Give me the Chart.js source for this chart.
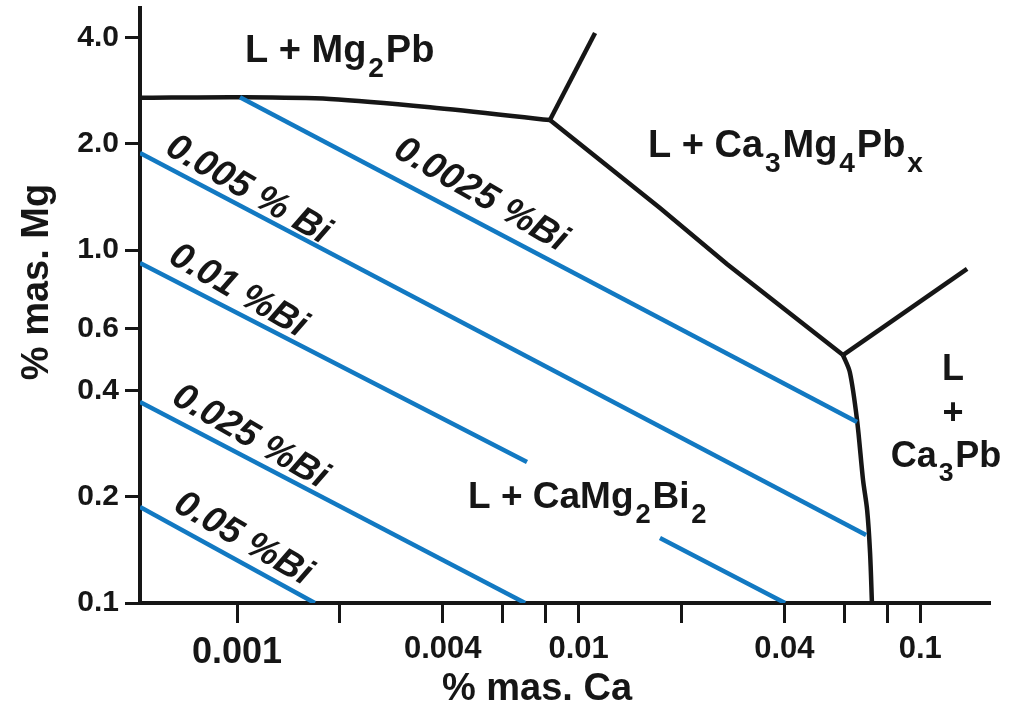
<!DOCTYPE html>
<html>
<head>
<meta charset="utf-8">
<script src="https://cdn.jsdelivr.net/npm/chart.js@4/dist/chart.umd.min.js"></script>
<style>
  body { margin: 0; background: #fff; }
  #chart { display: block; }
</style>
</head>
<body>
<canvas id="chart" width="1013" height="706"></canvas>
<script>
// axis ticks
const caTicks = [0.001, 0.002, 0.004, 0.006, 0.008, 0.01, 0.02, 0.04, 0.06, 0.08, 0.1];
const caTickLabels = ['0.001', '', '0.004', '', '', '0.01', '', '0.04', '', '', '0.1'];
const mgTicks = [0.1, 0.2, 0.4, 0.6, 1.0, 2.0, 4.0];
const mgTickLabels = ['0.1', '0.2', '0.4', '0.6', '1.0', '2.0', '4.0'];

// phase boundaries (black)
const mg2pbCa = [0.00052, 0.00102, 0.00187, 0.00367, 0.00824];
const mg2pbMg = [2.70, 2.71, 2.68, 2.54, 2.335];
const upperLeftCa = [0.00824, 0.01117];
const upperLeftMg = [2.335, 4.12];
const ca3mg4Ca = [0.00824, 0.0173, 0.02716, 0.0594];
const ca3mg4Mg = [2.335, 1.315, 0.913, 0.504];
const upperRightCa = [0.0594, 0.1371];
const upperRightMg = [0.504, 0.884];
const ca3pbCa = [0.0594, 0.0622, 0.0653, 0.0680, 0.0699, 0.0713, 0.0722];
const ca3pbMg = [0.504, 0.451, 0.330, 0.223, 0.1834, 0.1385, 0.1];

// iso-Bi lines (blue); null = break in the line
const bi0025Ca = [0.00102, 0.0653];
const bi0025Mg = [2.71, 0.3256];
const bi005Ca = [0.00052, 0.0694];
const bi005Mg = [1.883, 0.1558];
const bi01Ca = [0.00052, 0.00706, 0.01, 0.0173, 0.0402];
const bi01Mg = [0.919, 0.2507, null, 0.1527, 0.1];
const bi025Ca = [0.00052, 0.00697];
const bi025Mg = [0.371, 0.1];
const bi05Ca = [0.00052, 0.00169];
const bi05Mg = [0.187, 0.1];

// labels of the iso-Bi lines, anchored at [Ca, Mg]
const biLabels = ['0.0025 %Bi', '0.005 % Bi', '0.01 %Bi', '0.025 %Bi', '0.05 %Bi'];
const biLabelCa = [0.005171, 0.001077, 0.001007, 0.001092, 0.001041];
const biLabelMg = [1.432, 1.479, 0.7656, 0.2954, 0.1518];

const FONT = '"Liberation Sans", Arial, sans-serif';
const INK = '#161616';
const BLUE = '#1279c2';

const toPoints = (xs, ys) => xs.map((x, i) => ({ x: x, y: ys[i] }));

const line = (xs, ys, color, tension) => ({
    data: toPoints(xs, ys),
    showLine: true,
    borderColor: color,
    borderWidth: 4.5,
    pointRadius: 0,
    tension: tension || 0,
    spanGaps: false
});

// text with subscripts: parts = [[text, isSub], ...]
const SUB = 0.74;

const richWidth = (ctx, parts, size) => {
    let w = 0;
    parts.forEach(([t, sub]) => {
        ctx.font = `bold ${sub ? size * SUB : size}px ${FONT}`;
        w += ctx.measureText(t).width + (sub ? size * 0.1 : 0);
    });
    return w;
};

const drawRich = (ctx, x, y, parts, size) => {
    let cx = x;
    ctx.textAlign = 'left';
    ctx.textBaseline = 'alphabetic';
    parts.forEach(([t, sub]) => {
        ctx.font = `bold ${sub ? size * SUB : size}px ${FONT}`;
        if (sub) cx += size * 0.05;
        ctx.fillText(t, cx, y + (sub ? size * 0.4 : 0));
        cx += ctx.measureText(t).width + (sub ? size * 0.05 : 0);
    });
};

const labelPlugin = {
    id: 'labels',
    afterDraw(chart) {
        const ctx = chart.ctx;
        const xs = chart.scales.x;
        const ys = chart.scales.y;
        const px = v => xs.getPixelForValue(v);
        const py = v => ys.getPixelForValue(v);
        ctx.save();
        ctx.fillStyle = INK;

        // region labels
        drawRich(ctx, px(0.001055), py(3.41), [['L + Mg', false], ['2', true], ['Pb', false]], 38);
        drawRich(ctx, px(0.01596), py(1.834), [['L + Ca', false], ['3', true], ['Mg', false], ['4', true], ['Pb', false], ['x', true]], 38);
        drawRich(ctx, px(0.004745), py(0.1858), [['L + CaMg', false], ['2', true], ['Bi', false], ['2', true]], 37);

        ctx.font = `bold 36px ${FONT}`;
        ctx.textAlign = 'center';
        ctx.fillText('L', px(0.1247), py(0.428));
        ctx.fillText('+', px(0.1247), py(0.3214));
        const ca3pb = [['Ca', false], ['3', true], ['Pb', false]];
        const w = richWidth(ctx, ca3pb, 36);
        drawRich(ctx, px(0.1190) - w / 2, py(0.2428), ca3pb, 36);

        // iso-Bi labels, rotated along the lines
        ctx.font = `italic bold 37px ${FONT}`;
        ctx.textAlign = 'center';
        ctx.textBaseline = 'middle';
        biLabels.forEach((t, i) => {
            ctx.save();
            ctx.translate(px(biLabelCa[i]), py(biLabelMg[i]));
            ctx.rotate(30 * Math.PI / 180);
            ctx.fillText(t, 0, 0);
            ctx.restore();
        });

        // axis titles
        const area = chart.chartArea;
        ctx.font = `bold 38px ${FONT}`;
        ctx.textAlign = 'center';
        ctx.textBaseline = 'alphabetic';
        ctx.fillText('% mas. Ca', area.left + 397, area.bottom + 97);
        ctx.save();
        ctx.translate(area.left - 92, area.top + 274);
        ctx.rotate(-Math.PI / 2);
        ctx.fillText('% mas. Mg', 0, 0);
        ctx.restore();

        ctx.restore();
    }
};

document.addEventListener('DOMContentLoaded', () => {
    const ctx = document.getElementById('chart').getContext('2d');

    new Chart(ctx, {
        type: 'scatter',
        data: {
            datasets: [
                line(bi0025Ca, bi0025Mg, BLUE),
                line(bi005Ca, bi005Mg, BLUE),
                line(bi01Ca, bi01Mg, BLUE),
                line(bi025Ca, bi025Mg, BLUE),
                line(bi05Ca, bi05Mg, BLUE),
                line(mg2pbCa, mg2pbMg, INK, 0.3),
                line(upperLeftCa, upperLeftMg, INK),
                line(ca3mg4Ca, ca3mg4Mg, INK),
                line(upperRightCa, upperRightMg, INK),
                line(ca3pbCa, ca3pbMg, INK, 0.3)
            ]
        },
        options: {
            responsive: false,
            animation: false,
            layout: { padding: { top: 8, right: 23, left: 0, bottom: 0 } },
            plugins: {
                legend: { display: false },
                tooltip: { enabled: false }
            },
            scales: {
                x: {
                    type: 'logarithmic',
                    min: 0.00052,
                    max: 0.16,
                    afterBuildTicks: (scale) => { scale.ticks = caTicks.map(v => ({ value: v })); },
                    afterFit: (scale) => {
                        scale.height = 103;
                        scale.paddingLeft = 0;
                        scale.paddingRight = 0;
                    },
                    border: { display: true, color: INK, width: 4 },
                    grid: { drawOnChartArea: false, drawTicks: true, tickLength: 20, tickWidth: 3, tickColor: INK },
                    ticks: {
                        autoSkip: false,
                        maxRotation: 0,
                        padding: 8,
                        color: INK,
                        font: (c) => ({ family: FONT, weight: 'bold', size: c.tick && c.tick.value === 0.001 ? 36 : 31 }),
                        callback: (value, index) => caTickLabels[index]
                    }
                },
                y: {
                    type: 'logarithmic',
                    min: 0.1,
                    max: 4.85,
                    afterBuildTicks: (scale) => { scale.ticks = mgTicks.map(v => ({ value: v })); },
                    afterFit: (scale) => {
                        scale.width = 140;
                        scale.paddingTop = 0;
                        scale.paddingBottom = 0;
                    },
                    border: { display: true, color: INK, width: 4 },
                    grid: { drawOnChartArea: false, drawTicks: true, tickLength: 15, tickWidth: 3, tickColor: INK },
                    ticks: {
                        autoSkip: false,
                        padding: 6,
                        color: INK,
                        font: { family: FONT, weight: 'bold', size: 30 },
                        callback: (value, index) => mgTickLabels[index]
                    }
                }
            }
        },
        plugins: [labelPlugin]
    });
});
</script>
</body>
</html>
